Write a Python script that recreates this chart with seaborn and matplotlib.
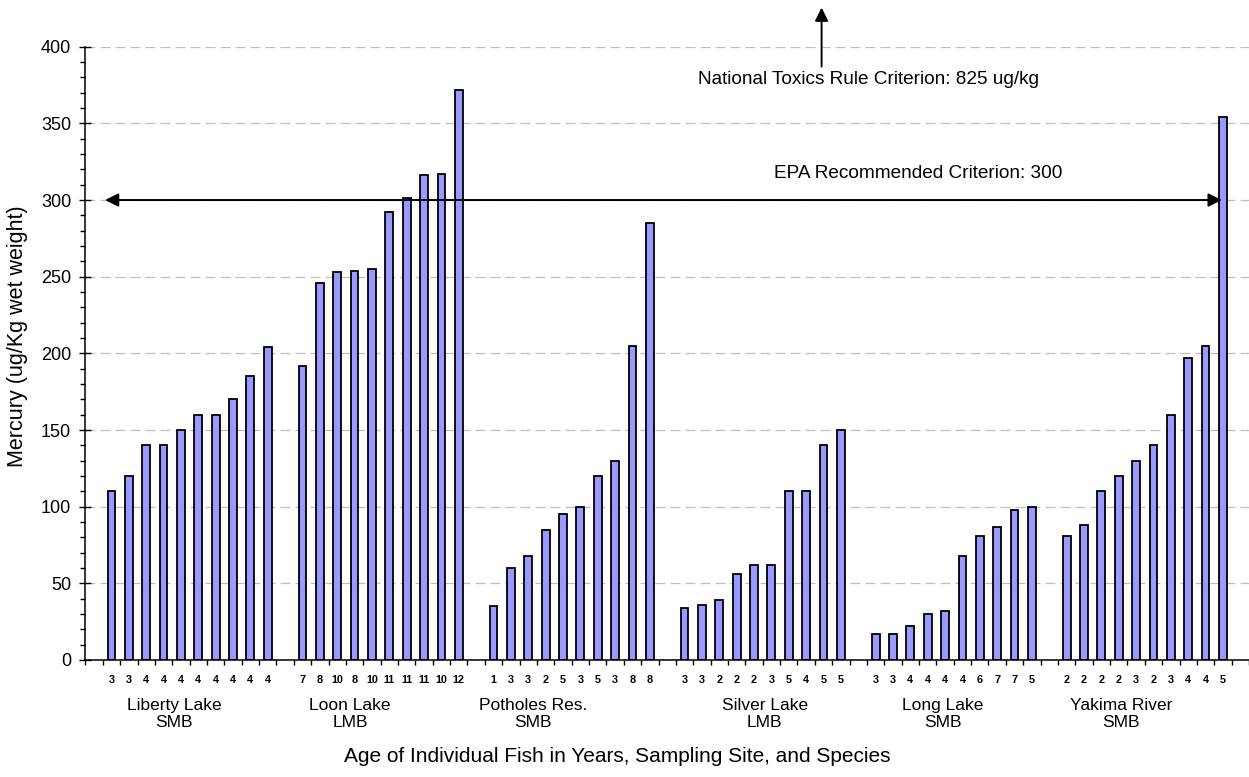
import numpy as np
import pandas as pd
import matplotlib
matplotlib.use("Agg")
import matplotlib.pyplot as plt
import matplotlib.transforms as mtransforms
from matplotlib.ticker import FixedLocator, MultipleLocator
import seaborn as sns

# ---------------- data ----------------
sites = ["Liberty Lake\nSMB", "Loon Lake\nLMB", "Potholes Res.\nSMB",
         "Silver Lake\nLMB", "Long Lake\nSMB", "Yakima River\nSMB"]

liberty_age = [3, 3, 4, 4, 4, 4, 4, 4, 4, 4]
liberty_hg = [110, 120, 140, 140, 150, 160, 160, 170, 185, 204]
loon_age = [7, 8, 10, 8, 10, 11, 11, 11, 10, 12]
loon_hg = [192, 246, 253, 254, 255, 292, 301, 316, 317, 372]
potholes_age = [1, 3, 3, 2, 5, 3, 5, 3, 8, 8]
potholes_hg = [35, 60, 68, 85, 95, 100, 120, 130, 205, 285]
silver_age = [3, 3, 2, 2, 2, 3, 5, 4, 5, 5]
silver_hg = [34, 36, 39, 56, 62, 62, 110, 110, 140, 150]
long_age = [3, 3, 4, 4, 4, 4, 6, 7, 7, 5]
long_hg = [17, 17, 22, 30, 32, 68, 81, 87, 98, 100]
yakima_age = [2, 2, 2, 2, 3, 2, 3, 4, 4, 5]
yakima_hg = [81, 88, 110, 120, 130, 140, 160, 197, 205, 354]

ages = [liberty_age, loon_age, potholes_age, silver_age, long_age, yakima_age]
mercury = [liberty_hg, loon_hg, potholes_hg, silver_hg, long_hg, yakima_hg]

epa_criterion = 300
epa_text = "EPA Recommended Criterion: 300"
ntr_text = "National Toxics Rule Criterion: 825 ug/kg"

# ------------- build category slots (empty slot between groups) -------------
slot_labels = [""]          # leading empty slot
rows = []
for a, v in zip(ages, mercury):
    for age, val in zip(a, v):
        idx = len(slot_labels)
        slot_labels.append(str(age))
        rows.append({"slot": idx, "mercury": val})
    slot_labels.append("")  # separator / trailing empty slot
n_slots = len(slot_labels)
df = pd.DataFrame(rows)

# ---------------- style ----------------
sns.set_style("white")
plt.rcParams["font.family"] = ["Liberation Sans", "DejaVu Sans"]
plt.rcParams["text.color"] = "black"
plt.rcParams["axes.labelcolor"] = "black"
plt.rcParams["xtick.color"] = "black"
plt.rcParams["ytick.color"] = "black"

fig = plt.figure(figsize=(12.49, 7.77), dpi=100)
ax = fig.add_axes([85.4 / 1249, 1 - 660 / 777, (1249 - 85.4) / 1249, (660 - 46.7) / 777])

sns.barplot(data=df, x="slot", y="mercury", order=list(range(n_slots)),
            color="#9999FF", saturation=1, width=0.45, edgecolor="black",
            linewidth=1.3, errorbar=None, ax=ax, zorder=3)

ax.set_xlim(-0.5, n_slots - 0.5)
ax.set_ylim(0, 400)

# grid
ax.yaxis.set_major_locator(MultipleLocator(50))
ax.yaxis.set_minor_locator(MultipleLocator(10))
ax.grid(axis="y", which="major", color="#BFBFBF", linestyle=(0, (8, 4)), linewidth=0.9, zorder=0)
ax.grid(axis="x", visible=False)

# spines
for s in ["top", "right"]:
    ax.spines[s].set_visible(False)
for s in ["left", "bottom"]:
    ax.spines[s].set_color("black")
    ax.spines[s].set_linewidth(1.1)
    ax.spines[s].set_zorder(4)

# ticks
ax.set_xticks(range(n_slots))
ax.set_xticklabels(slot_labels, fontsize=7.8, fontweight="bold", color="black")
ax.xaxis.set_minor_locator(FixedLocator(np.arange(-0.5, n_slots, 1.0)))
ax.tick_params(axis="x", which="major", length=0, pad=11)
ax.tick_params(axis="x", which="minor", length=3.5, width=1, direction="out", color="black")
ax.tick_params(axis="y", which="major", length=8.5, width=1, direction="inout", color="black",
               labelsize=13, pad=6, labelcolor="black")
ax.tick_params(axis="y", which="minor", length=3.6, width=1, direction="out", color="black")
ax.tick_params(axis="both", which="both", bottom=True, left=True)

ax.set_xlabel("")
ax.set_ylabel("Mercury (ug/Kg wet weight)", fontsize=15.5, color="black")
ax.yaxis.set_label_coords(-(85.4 - 28) / (1249 - 85.4), (660 - 336) / (660 - 46.7))

# group labels below the ages
trans = mtransforms.blended_transform_factory(ax.transData, fig.transFigure)
group_x = [4.6, 14.73, 25.27, 38.62, 48.87, 59.12]
for gx, name in zip(group_x, sites):
    ax.text(gx, 1 - 714 / 777, name, transform=trans, ha="center", va="center",
            fontsize=12.5, linespacing=1.1, color="black")

fig.text(617 / 1249, 1 - 757 / 777, "Age of Individual Fish in Years, Sampling Site, and Species",
         ha="center", va="center", fontsize=15, color="black")

# EPA criterion double arrow
ax.annotate("", xy=(0.63, epa_criterion), xytext=(64.93, epa_criterion),
            arrowprops=dict(arrowstyle="<|-|>", color="black", lw=1.4,
                            mutation_scale=20, shrinkA=0, shrinkB=0), zorder=5)
ax.text(47.48, 317.6, epa_text, ha="center", va="center", fontsize=13.7, color="black")

# National Toxics Rule arrow (points up out of the plot)
ax.annotate("", xy=(41.89, 425.5), xytext=(41.89, 387),
            arrowprops=dict(arrowstyle="-|>", color="black", lw=1.4,
                            mutation_scale=20, shrinkA=0, shrinkB=0, clip_on=False),
            annotation_clip=False)
ax.text(44.57, 378.3, ntr_text, ha="center", va="center", fontsize=13.7, clip_on=False,
        color="black")

fig.savefig("out.png", dpi=100)
